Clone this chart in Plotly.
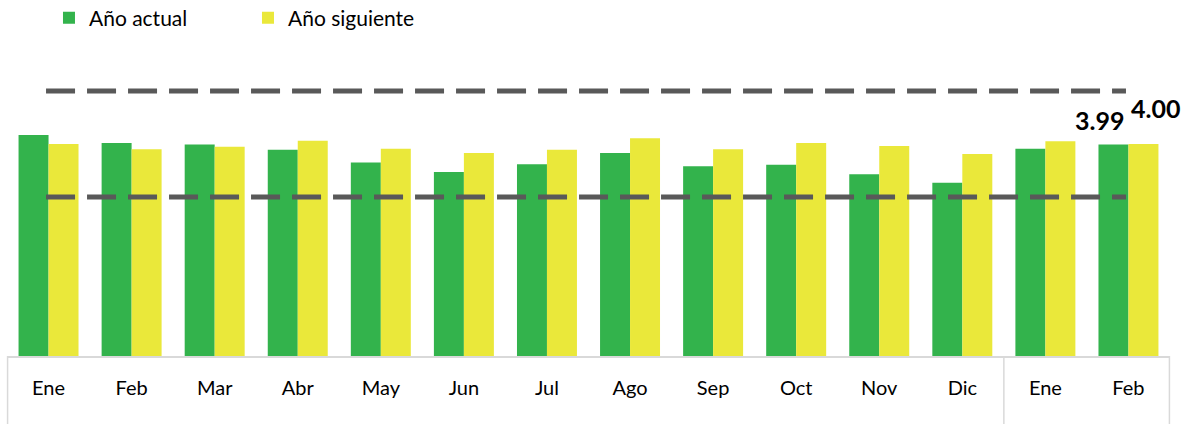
import plotly.graph_objects as go

# ---- data ----
months = ["Ene", "Feb", "Mar", "Abr", "May", "Jun", "Jul", "Ago",
          "Sep", "Oct", "Nov", "Dic", "Ene", "Feb"]
anio_actual = [4.17, 4.02, 3.99, 3.89, 3.65, 3.47, 3.62, 3.83,
               3.58, 3.61, 3.43, 3.27, 3.91, 3.99]
anio_siguiente = [4.00, 3.90, 3.95, 4.06, 3.91, 3.83, 3.89, 4.11,
                  3.90, 4.02, 3.96, 3.81, 4.05, 4.00]
banda_inferior = 3.0
banda_superior = 5.0

GREEN = "#33B34C"
YELLOW = "#EAE83A"
DASH = "#595959"
BORDER = "#D9D9D9"
FONT = "Lato"

W, H = 1190, 424
T, B, L, R = 60, 68, 7, 20
PH = H - T - B

xpos = list(range(len(months)))

fig = go.Figure()
fig.add_trace(go.Bar(x=xpos, y=anio_actual, name="Año actual",
                     marker=dict(color=GREEN, line=dict(width=0))))
fig.add_trace(go.Bar(x=xpos, y=anio_siguiente, name="Año siguiente",
                     marker=dict(color=YELLOW, line=dict(width=0))))

# dashed band lines
for yv in (banda_inferior, banda_superior):
    fig.add_shape(type="line", xref="x", yref="y",
                  x0=xpos[0] - 0.03, x1=xpos[-1] - 0.03, y0=yv, y1=yv,
                  line=dict(color=DASH, width=5, dash="29px,12px"),
                  layer="above")

# category box below the axis
ybot = -B / PH
for xp in (0.0005, 12 / 14, 0.9995):
    fig.add_shape(type="line", xref="paper", yref="paper", x0=xp, x1=xp, y0=0, y1=ybot,
                  line=dict(color=BORDER, width=1.5))

# data labels for the last month
last = len(months) - 1
fig.add_annotation(x=xpos[last], y=anio_actual[last], text=f"{anio_actual[last]:.2f}",
                   showarrow=False, yanchor="bottom", xshift=-29, yshift=8,
                   font=dict(family=FONT, size=25, color="#000000", weight="bold"))
fig.add_annotation(x=xpos[last], y=anio_siguiente[last], text=f"{anio_siguiente[last]:.2f}",
                   showarrow=False, yanchor="bottom", xshift=27, yshift=19,
                   font=dict(family=FONT, size=25, color="#000000", weight="bold"))

fig.update_layout(
    width=W, height=H,
    margin=dict(l=L, r=R, t=T, b=B, pad=0),
    paper_bgcolor="white", plot_bgcolor="white",
    barmode="group", bargap=0.278, bargroupgap=0,
    font=dict(family=FONT, color="#000000"),
    showlegend=True,
    legend=dict(orientation="h", x=0.0361, xanchor="left", y=1 - 18 / H, yanchor="middle",
                yref="container", font=dict(family=FONT, size=21, color="#000000"),
                entrywidth=154, entrywidthmode="pixels", traceorder="normal"),
    xaxis=dict(range=[-0.5, len(months) - 0.5], tickmode="array", tickvals=xpos,
               ticktext=months, tickfont=dict(family=FONT, size=20, color="#000000"),
               showgrid=False, zeroline=False, showline=True, linecolor=BORDER, linewidth=1.5,
               ticks="outside", ticklen=13, tickcolor="rgba(0,0,0,0)", fixedrange=True),
    yaxis=dict(range=[0, PH / 53], visible=False, showgrid=False, zeroline=False,
               fixedrange=True),
)

fig.write_html("out.html", config={"displayModeBar": False},
               post_script="document.body.style.margin='0';document.body.style.overflow='hidden';")
